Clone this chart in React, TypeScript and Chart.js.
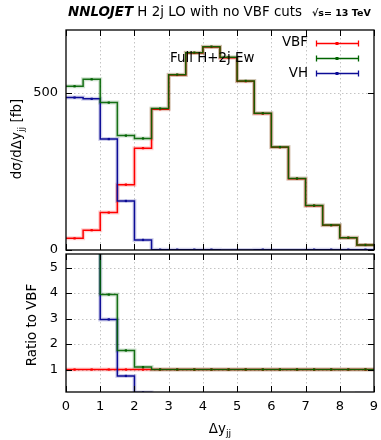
import React, { useEffect, useRef } from "react";
import { Chart, registerables } from "chart.js";
Chart.register(...registerables);

const FONT = '"DejaVu Sans", sans-serif';

// bin edges of Δy_jj (width 0.5)
const binEdges = [0, 0.5, 1, 1.5, 2, 2.5, 3, 3.5, 4, 4.5, 5, 5.5, 6, 6.5, 7, 7.5, 8, 8.5, 9];
// dσ/dΔy_jj [fb] per bin
const vbfValues = [37, 63, 119, 208, 324, 448, 557, 627, 646, 612, 537, 434, 327, 227, 141, 79, 39, 16];
const fullValues = [521, 543, 469, 364, 355, 450, 558, 628, 647, 613, 538, 435, 327.5, 227.5, 141.3, 79.2, 39.1, 16.1];
const vhValues = [485, 481, 353, 156, 32, 1, 1, 1, 1, 0, 0, 1, 0, 0, 1, 1, 1, 1];

const xTickValues = [0, 1, 2, 3, 4, 5, 6, 7, 8, 9];
const upperYTicks = [0, 500];
const lowerYTicks = [1, 2, 3, 4, 5];

const RED = "#ff0000";
const GREEN = "rgba(0,100,0,0.9)";
const GREEN_SOLID = "#006400";
const BLUE = "#0c0c96";

function stepPoints(vals: number[]) {
  const pts: { x: number; y: number }[] = [];
  vals.forEach((v, i) => {
    pts.push({ x: binEdges[i], y: v });
    pts.push({ x: binEdges[i + 1], y: v });
  });
  return pts;
}
function centerPoints(vals: number[], keepZero = true) {
  const pts: { x: number; y: number }[] = [];
  vals.forEach((v, i) => {
    if (!keepZero && v <= 0) return;
    pts.push({ x: (binEdges[i] + binEdges[i + 1]) / 2, y: v });
  });
  return pts;
}

const vbfRatio = vbfValues.map((v) => v / v);
const fullRatio = fullValues.map((v, i) => v / vbfValues[i]);
const vhRatio = vhValues.map((v, i) => v / vbfValues[i]);

function lineDs(vals: number[], color: string, order: number, width = 1.5) {
  return {
    data: stepPoints(vals),
    borderColor: color,
    borderWidth: width,
    pointRadius: 0,
    fill: false,
    tension: 0,
    order,
  };
}
function markDs(vals: number[], color: string, order: number, keepZero = true) {
  return {
    data: centerPoints(vals, keepZero),
    showLine: false,
    pointStyle: "rect",
    pointRadius: 1.6,
    pointBorderWidth: 0,
    pointBackgroundColor: color,
    borderColor: color,
    order,
  };
}

function seriesSet(full: number[], vh: number[], vbf: number[], vhKeepZero: boolean) {
  return [
    markDs(full, GREEN_SOLID, 0),
    markDs(vh, BLUE, 1, vhKeepZero),
    markDs(vbf, RED, 2),
    lineDs(full, GREEN, 3),
    lineDs(vh, BLUE, 4),
    lineDs(vbf, RED, 5),
    lineDs(full, "rgba(0,100,0,0.18)", 6, 4),
    lineDs(vh, "rgba(12,12,150,0.18)", 7, 4),
    lineDs(vbf, "rgba(255,0,0,0.18)", 8, 4),
  ];
}

const noPad = (s: any) => {
  s.paddingTop = 0;
  s.paddingBottom = 0;
  s.paddingLeft = 0;
  s.paddingRight = 0;
};

function makeFramePlugin(yGrid: number[], yTicks: number[], extra: (c: any) => void) {
  return {
    id: "frame",
    beforeDatasetsDraw(chart: any) {
      const { ctx, chartArea: a, scales } = chart;
      ctx.save();
      ctx.strokeStyle = "#c4c4c4";
      ctx.lineWidth = 1;
      ctx.setLineDash([1.5, 2.5]);
      for (const v of xTickValues.slice(1, -1)) {
        const px = Math.round(scales.x.getPixelForValue(v)) + 0.5;
        ctx.beginPath();
        ctx.moveTo(px, a.top);
        ctx.lineTo(px, a.bottom);
        ctx.stroke();
      }
      for (const v of yGrid) {
        const py = Math.round(scales.y.getPixelForValue(v)) + 0.5;
        ctx.beginPath();
        ctx.moveTo(a.left, py);
        ctx.lineTo(a.right, py);
        ctx.stroke();
      }
      ctx.restore();
    },
    afterDatasetsDraw(chart: any) {
      const { ctx, chartArea: a, scales } = chart;
      ctx.save();
      ctx.strokeStyle = "#000";
      ctx.lineWidth = 1.3;
      ctx.setLineDash([]);
      ctx.strokeRect(a.left, a.top, a.right - a.left, a.bottom - a.top);
      ctx.lineWidth = 1;
      const tl = 6;
      for (const v of xTickValues) {
        const px = Math.round(scales.x.getPixelForValue(v)) + 0.5;
        ctx.beginPath();
        ctx.moveTo(px, a.bottom);
        ctx.lineTo(px, a.bottom - tl);
        ctx.moveTo(px, a.top);
        ctx.lineTo(px, a.top + tl);
        ctx.stroke();
      }
      for (const v of yTicks) {
        const py = Math.round(scales.y.getPixelForValue(v)) + 0.5;
        ctx.beginPath();
        ctx.moveTo(a.left, py);
        ctx.lineTo(a.left + tl, py);
        ctx.moveTo(a.right, py);
        ctx.lineTo(a.right - tl, py);
        ctx.stroke();
      }
      ctx.restore();
      ctx.save();
      extra(chart);
      ctx.restore();
    },
  };
}

export default function App() {
  const topRef = useRef<HTMLCanvasElement>(null);
  const botRef = useRef<HTMLCanvasElement>(null);

  useEffect(() => {
    const tickFont = { family: FONT, size: 13 };
    const TF = 13.4;

    const upperText = (chart: any) => {
      const ctx = chart.ctx as CanvasRenderingContext2D;
      ctx.fillStyle = "#000";
      ctx.textBaseline = "middle";
      // title
      let x = 68;
      ctx.textAlign = "left";
      ctx.font = `italic bold ${TF}px ${FONT}`;
      ctx.fillText("NNLOJET", x, 13);
      x += ctx.measureText("NNLOJET").width;
      ctx.font = `${TF}px ${FONT}`;
      ctx.fillText(" H 2j LO with no VBF cuts", x, 13);
      ctx.font = `bold 9.5px ${FONT}`;
      ctx.fillText("√s= 13 TeV", 312, 14);
      // legend
      ctx.font = `${TF}px ${FONT}`;
      ctx.textAlign = "right";
      ctx.fillText("VBF", 308, 43);
      ctx.fillText("VH", 308, 73.5);
      ctx.textAlign = "left";
      ctx.fillText("Full H+2j Ew", 170, 58.5);
      const samples: [number, string][] = [
        [43.5, RED],
        [58.5, GREEN_SOLID],
        [73.5, BLUE],
      ];
      for (const [y, c] of samples) {
        ctx.strokeStyle = c;
        ctx.lineWidth = 1.3;
        ctx.beginPath();
        ctx.moveTo(316.5, y);
        ctx.lineTo(358.5, y);
        ctx.moveTo(316.5, y - 3);
        ctx.lineTo(316.5, y + 3);
        ctx.moveTo(358.5, y - 3);
        ctx.lineTo(358.5, y + 3);
        ctx.stroke();
        ctx.fillStyle = c;
        ctx.fillRect(335.5, y - 1.5, 3, 3);
      }
      // y title
      ctx.fillStyle = "#000";
      ctx.translate(18, 139);
      ctx.rotate(-Math.PI / 2);
      ctx.textAlign = "left";
      const p1 = "dσ/dΔy";
      const sub = "jj";
      const p2 = " [fb]";
      ctx.font = `${TF}px ${FONT}`;
      const w1 = ctx.measureText(p1).width;
      const w3 = ctx.measureText(p2).width;
      ctx.font = `9.5px ${FONT}`;
      const w2 = ctx.measureText(sub).width;
      const total = w1 + w2 + w3;
      let sx = -total / 2;
      ctx.font = `${TF}px ${FONT}`;
      ctx.fillText(p1, sx, 0);
      sx += w1;
      ctx.font = `9.5px ${FONT}`;
      ctx.fillText(sub, sx, 4);
      sx += w2;
      ctx.font = `${TF}px ${FONT}`;
      ctx.fillText(p2, sx, 0);
    };

    const lowerText = (chart: any) => {
      const ctx = chart.ctx as CanvasRenderingContext2D;
      ctx.fillStyle = "#000";
      ctx.textBaseline = "middle";
      // x title
      ctx.font = `${TF}px ${FONT}`;
      const w1 = ctx.measureText("Δy").width;
      ctx.font = `9.5px ${FONT}`;
      const w2 = ctx.measureText("jj").width;
      let sx = 220 - (w1 + w2) / 2;
      ctx.textAlign = "left";
      ctx.font = `${TF}px ${FONT}`;
      ctx.fillText("Δy", sx, 180);
      ctx.font = `9.5px ${FONT}`;
      ctx.fillText("jj", sx + w1, 184);
      // y title
      ctx.translate(33, 75);
      ctx.rotate(-Math.PI / 2);
      ctx.textAlign = "center";
      ctx.font = `${TF}px ${FONT}`;
      ctx.fillText("Ratio to VBF", 0, 0);
    };

    const top = new Chart(topRef.current as HTMLCanvasElement, {
      type: "line",
      data: { datasets: seriesSet(fullValues, vhValues, vbfValues, false) as any },
      options: {
        animation: false,
        responsive: false,
        maintainAspectRatio: false,
        layout: { padding: { top: 30, right: 7, bottom: 12, left: 0 } },
        plugins: { legend: { display: false }, tooltip: { enabled: false } },
        scales: {
          x: {
            type: "linear",
            min: 0,
            max: 9,
            grid: { display: false },
            border: { display: false },
            ticks: { display: false },
            afterFit: (s: any) => {
              s.height = 0;
              noPad(s);
            },
          },
          y: {
            type: "linear",
            min: 0,
            max: 700,
            grid: { display: false, drawTicks: false },
            border: { display: false },
            ticks: { font: tickFont, color: "#000", padding: 8 },
            afterBuildTicks: (s: any) => {
              s.ticks = upperYTicks.map((v) => ({ value: v }));
            },
            afterFit: (s: any) => {
              s.width = 66;
              noPad(s);
            },
          },
        },
      } as any,
      plugins: [makeFramePlugin(upperYTicks.slice(1), upperYTicks, upperText)],
    });

    const bot = new Chart(botRef.current as HTMLCanvasElement, {
      type: "line",
      data: { datasets: seriesSet(fullRatio, vhRatio, vbfRatio, true) as any },
      options: {
        animation: false,
        responsive: false,
        maintainAspectRatio: false,
        layout: { padding: { top: 0, right: 7, bottom: 0, left: 0 } },
        plugins: { legend: { display: false }, tooltip: { enabled: false } },
        scales: {
          x: {
            type: "linear",
            min: 0,
            max: 9,
            grid: { display: false, drawTicks: false },
            border: { display: false },
            ticks: { font: tickFont, color: "#000", padding: 7, maxRotation: 0 },
            afterBuildTicks: (s: any) => {
              s.ticks = xTickValues.map((v) => ({ value: v }));
            },
            afterFit: (s: any) => {
              s.height = 48;
              noPad(s);
            },
          },
          y: {
            type: "linear",
            min: 0.12,
            max: 5.53,
            grid: { display: false, drawTicks: false },
            border: { display: false },
            ticks: { font: tickFont, color: "#000", padding: 8 },
            afterBuildTicks: (s: any) => {
              s.ticks = lowerYTicks.map((v) => ({ value: v }));
            },
            afterFit: (s: any) => {
              s.width = 66;
              noPad(s);
            },
          },
        },
      } as any,
      plugins: [makeFramePlugin(lowerYTicks, lowerYTicks, lowerText)],
    });

    return () => {
      top.destroy();
      bot.destroy();
    };
  }, []);

  return (
    <div style={{ position: "absolute", left: 0, top: 0, width: 381, height: 440, background: "#fff" }}>
      <canvas
        ref={topRef}
        width={381}
        height={262}
        style={{ position: "absolute", left: 0, top: 0, width: 381, height: 262 }}
      />
      <canvas
        ref={botRef}
        width={381}
        height={190}
        style={{ position: "absolute", left: 0, top: 250, width: 381, height: 190 }}
      />
    </div>
  );
}
